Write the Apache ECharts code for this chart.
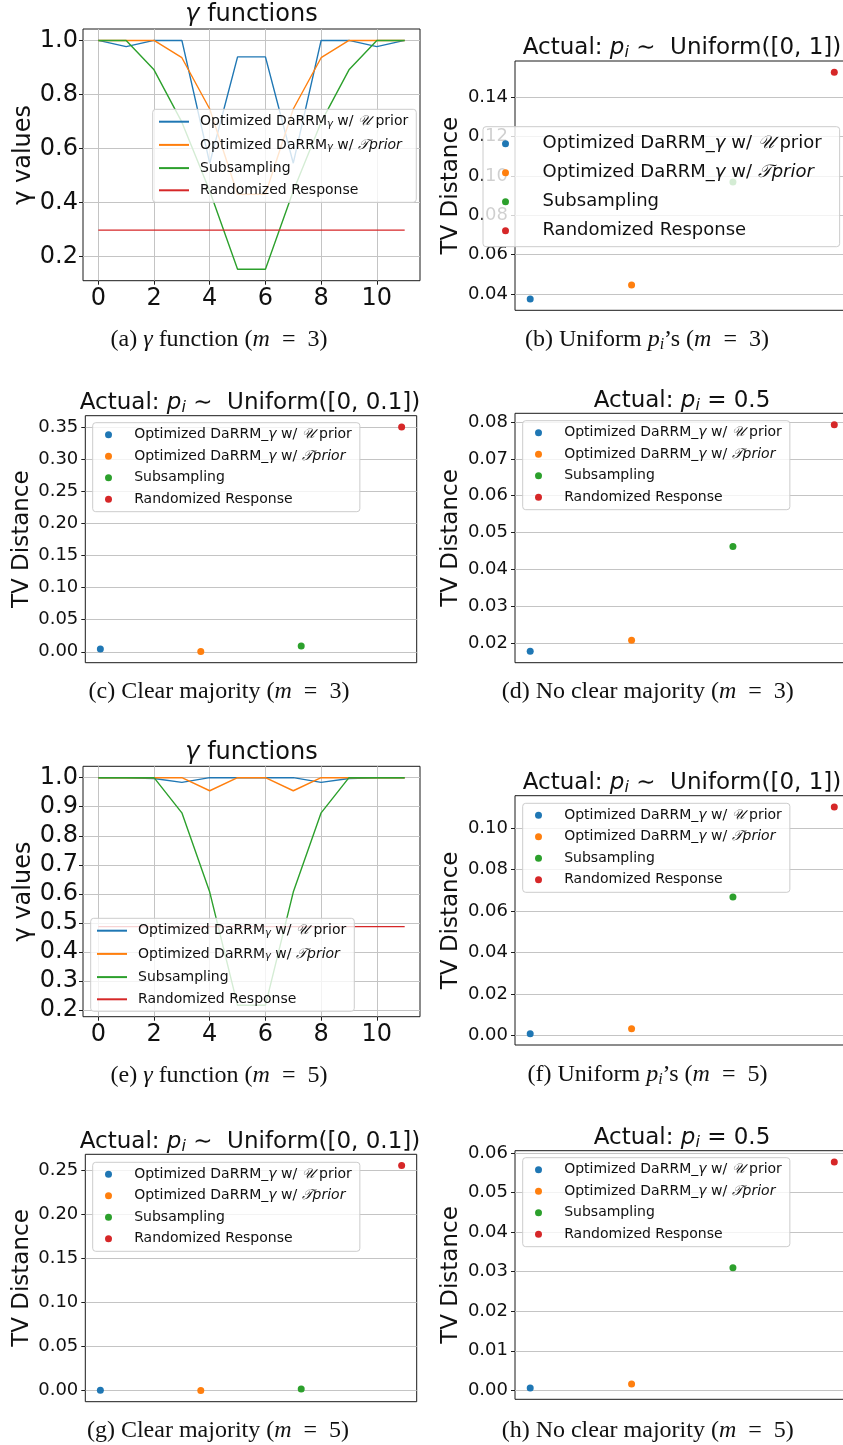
<!DOCTYPE html>
<html>
<head>
<meta charset="utf-8">
<script src="https://cdn.jsdelivr.net/npm/echarts@6/dist/echarts.min.js"></script>
<style>
  html, body { margin: 0; padding: 0; background: #fff; }
  #chart { width: 843px; height: 1445px; }
</style>
</head>
<body>
<div id="chart"></div>
<script>
// ---- data ----
const gammaX = [0, 1, 2, 3, 4, 5, 6, 7, 8, 9, 10, 11];
const gammaTickX = [0, 2, 4, 6, 8, 10];

// m = 3
const gammaU3   = [1.0, 0.977, 1.0, 1.0, 0.545, 0.939, 0.939, 0.545, 1.0, 1.0, 0.977, 1.0];
const gammaT3   = [1.0, 1.0, 1.0, 0.936, 0.746, 0.430, 0.430, 0.746, 0.936, 1.0, 1.0, 1.0];
const gammaSub3 = [1.0, 1.0, 0.891, 0.697, 0.442, 0.152, 0.152, 0.442, 0.697, 0.891, 1.0, 1.0];
const gammaRR3  = [0.297, 0.297, 0.297, 0.297, 0.297, 0.297, 0.297, 0.297, 0.297, 0.297, 0.297, 0.297];
// m = 5
const gammaU5   = [1.0, 1.0, 0.997, 0.984, 1.0, 1.0, 1.0, 1.0, 0.984, 0.997, 1.0, 1.0];
const gammaT5   = [1.0, 1.0, 1.0, 1.0, 0.955, 1.0, 1.0, 0.955, 1.0, 1.0, 1.0, 1.0];
const gammaSub5 = [1.0, 1.0, 1.0, 0.879, 0.606, 0.216, 0.216, 0.606, 0.879, 1.0, 1.0, 1.0];
const gammaRR5  = [0.487, 0.487, 0.487, 0.487, 0.487, 0.487, 0.487, 0.487, 0.487, 0.487, 0.487, 0.487];

// TV distance, order: DaRRM U prior, DaRRM T prior, Subsampling, Randomized Response
const methodPos = [0, 1, 2, 3];
const tvUniform3  = [0.0375, 0.0446, 0.0969, 0.1527];
const tvClear3    = [0.0042, 0.0005, 0.0089, 0.3505];
const tvNoMaj3    = [0.0177, 0.0207, 0.0462, 0.0793];
const tvUniform5  = [0.0010, 0.0034, 0.0668, 0.1101];
const tvClear5    = [0.0003, 0.0002, 0.0019, 0.2553];
const tvNoMaj5    = [0.0006, 0.0016, 0.0310, 0.0577];

const ticksA = [0.2, 0.4, 0.6, 0.8, 1.0];
const ticksB = [0.04, 0.06, 0.08, 0.10, 0.12, 0.14];
const ticksC = [0.00, 0.05, 0.10, 0.15, 0.20, 0.25, 0.30, 0.35];
const ticksD = [0.02, 0.03, 0.04, 0.05, 0.06, 0.07, 0.08];
const ticksE = [0.2, 0.3, 0.4, 0.5, 0.6, 0.7, 0.8, 0.9, 1.0];
const ticksF = [0.00, 0.02, 0.04, 0.06, 0.08, 0.10];
const ticksG = [0.00, 0.05, 0.10, 0.15, 0.20, 0.25];
const ticksH = [0.00, 0.01, 0.02, 0.03, 0.04, 0.05, 0.06];

const colors = ['#1f77b4', '#ff7f0e', '#2ca02c', '#d62728'];

const gammaLabels = [
  '{t|Optimized DaRRM}{s|γ}{t| w/ }{c|𝒰}{t| prior}',
  '{t|Optimized DaRRM}{s|γ}{t| w/ }{c|𝒯}{ci|prior}',
  '{t|Subsampling}',
  '{t|Randomized Response}'
];
const tvLabels = [
  '{t|Optimized DaRRM_}{ci|γ}{t| w/ }{c|𝒰}{t| prior}',
  '{t|Optimized DaRRM_}{ci|γ}{t| w/ }{c|𝒯}{ci|prior}',
  '{t|Subsampling}',
  '{t|Randomized Response}'
];

const titleUnif = (b) => '{t|Actual: }{it|p}{sub|i}{t| ∼  Uniform([0, ' + b + '])}';
const titleHalf = '{t|Actual: }{it|p}{sub|i}{t| = 0.5}';
const titleGamma = '{it|γ}{t| functions}';

// ---- layout ----
const panels = [
  { key: 'a', kind: 'gamma', box: [83, 29, 337, 251.7], data: [gammaU3, gammaT3, gammaSub3, gammaRR3], ticks: ticksA, dec: 1,
    legend: [152.7, 109.3], title: titleGamma, titlePos: [251.5, 15],
    caption: '{r|(a) }{ri|γ}{r| function (}{ri|m}{r|  =  3)}', capPos: [219, 340] },
  { key: 'b', kind: 'tv', box: [515, 61, 334.5, 249.3], data: tvUniform3, ticks: ticksB, dec: 2, big: true,
    legend: [483, 126.7], title: titleUnif('1'), titlePos: [682, 48],
    caption: '{r|(b) Uniform }{ri|p}{rs|i}{r|’s (}{ri|m}{r|  =  3)}', capPos: [647, 340] },
  { key: 'c', kind: 'tv', box: [85.3, 415.7, 331.4, 247], data: tvClear3, ticks: ticksC, dec: 2,
    legend: [92.7, 422.7], title: titleUnif('0.1'), titlePos: [250, 402.7],
    caption: '{r|(c) Clear majority (}{ri|m}{r|  =  3)}', capPos: [219, 692] },
  { key: 'd', kind: 'tv', box: [515, 413.3, 334.5, 249.4], data: tvNoMaj3, ticks: ticksD, dec: 2,
    legend: [522.7, 420.7], title: titleHalf, titlePos: [682, 400.7],
    caption: '{r|(d) No clear majority (}{ri|m}{r|  =  3)}', capPos: [647.7, 692] },
  { key: 'e', kind: 'gamma', box: [83, 766.3, 337, 250.4], data: [gammaU5, gammaT5, gammaSub5, gammaRR5], ticks: ticksE, dec: 1,
    legend: [90.7, 918.3], title: titleGamma, titlePos: [251.5, 753],
    caption: '{r|(e) }{ri|γ}{r| function (}{ri|m}{r|  =  5)}', capPos: [219, 1076] },
  { key: 'f', kind: 'tv', box: [515, 795.7, 334.5, 249.3], data: tvUniform5, ticks: ticksF, dec: 2,
    legend: [522.7, 803.3], title: titleUnif('1'), titlePos: [682, 782.7],
    caption: '{r|(f) Uniform }{ri|p}{rs|i}{r|’s (}{ri|m}{r|  =  5)}', capPos: [647.5, 1075] },
  { key: 'g', kind: 'tv', box: [85.3, 1154.3, 331.4, 247.4], data: tvClear5, ticks: ticksG, dec: 2,
    legend: [92.7, 1162.3], title: titleUnif('0.1'), titlePos: [250, 1141.7],
    caption: '{r|(g) Clear majority (}{ri|m}{r|  =  5)}', capPos: [218, 1431] },
  { key: 'h', kind: 'tv', box: [515, 1150.7, 334.5, 248.6], data: tvNoMaj5, ticks: ticksH, dec: 2,
    legend: [522.7, 1157.7], title: titleHalf, titlePos: [682, 1138.3],
    caption: '{r|(h) No clear majority (}{ri|m}{r|  =  5)}', capPos: [647.7, 1431] }
];

const FONT = 'DejaVu Sans';
const SERIF = 'Liberation Serif';

function padRange(vals) {
  const lo = Math.min.apply(null, vals), hi = Math.max.apply(null, vals);
  const p = (hi - lo) * 0.05;
  return [lo - p, hi + p];
}

const grids = [], xAxes = [], yAxes = [], series = [], legends = [], graphics = [];
const labelMap = {};

panels.forEach(function (p, i) {
  const gamma = p.kind === 'gamma';
  grids.push({
    left: p.box[0], top: p.box[1], width: p.box[2], height: p.box[3],
    show: true, borderColor: '#1a1a1a', borderWidth: 1, backgroundColor: 'transparent',
    containLabel: false, outerBoundsMode: 'none'
  });

  const allVals = gamma ? [].concat.apply([], p.data) : p.data;
  const yr = padRange(allVals);

  xAxes.push(gamma ? {
    gridIndex: i, type: 'value', min: -0.55, max: 11.55,
    axisLine: { show: false, onZero: false },
    axisTick: { show: true, length: 4, customValues: gammaTickX, lineStyle: { color: '#1a1a1a' } },
    axisLabel: { customValues: gammaTickX, fontFamily: FONT, fontSize: 24, color: '#111', margin: 6 },
    splitLine: { show: true, lineStyle: { color: '#c4c4c4', width: 1 } }
  } : {
    gridIndex: i, type: 'value', min: -0.15, max: 3.15,
    axisLine: { show: false, onZero: false }, axisTick: { show: false }, axisLabel: { show: false },
    splitLine: { show: false }
  });

  yAxes.push({
    gridIndex: i, type: 'value', min: yr[0], max: yr[1],
    axisLine: { show: false, onZero: false },
    axisTick: { show: true, length: 4, customValues: p.ticks, lineStyle: { color: '#1a1a1a' } },
    axisLabel: {
      customValues: p.ticks, fontFamily: FONT, fontSize: gamma ? 24 : 18, color: '#111',
      margin: gamma ? 5 : 7, formatter: function (v) { return v.toFixed(p.dec); }
    },
    splitLine: { show: true, lineStyle: { color: '#c4c4c4', width: 1 } },
    name: gamma ? 'γ values' : 'TV Distance',
    nameLocation: 'middle', nameGap: gamma ? 46 : 52,
    nameTextStyle: { fontFamily: FONT, fontSize: gamma ? 24 : 23, color: '#111' }
  });

  const names = [];
  for (let m = 0; m < 4; m++) {
    const name = p.key + m;
    names.push(name);
    labelMap[name] = gamma ? gammaLabels[m] : tvLabels[m];
    if (gamma) {
      series.push({
        type: 'line', name: name, xAxisIndex: i, yAxisIndex: i,
        data: gammaX.map(function (x, k) { return [x, p.data[m][k]]; }),
        symbol: 'none', color: colors[m], lineStyle: { width: 1.4, color: colors[m] },
        silent: true, animation: false
      });
    } else {
      series.push({
        type: 'scatter', name: name, xAxisIndex: i, yAxisIndex: i,
        data: [[methodPos[m], p.data[m]]],
        symbolSize: 7, itemStyle: { color: colors[m], opacity: 1 },
        silent: true, animation: false
      });
    }
  }

  const fs = p.big ? 18 : 14;
  const rich = {
    t: { fontFamily: FONT, fontSize: fs, color: '#111', lineHeight: fs },
    s: { fontFamily: FONT, fontSize: 10, fontStyle: 'italic', color: '#111', verticalAlign: 'bottom', padding: [6, 0, 0, 0] },
    c: { fontFamily: 'DejaVu Serif', fontSize: fs, fontStyle: 'italic', color: '#111', lineHeight: fs },
    ci: { fontFamily: FONT, fontSize: fs, fontStyle: 'italic', color: '#111', lineHeight: fs }
  };
  if (gamma) {
    legends.push({
      data: names, orient: 'vertical', left: p.legend[0], top: p.legend[1],
      itemWidth: 30, itemHeight: 14, itemGap: 8.2,
      padding: [5.4, 8, 5, 5.3],
      backgroundColor: 'rgba(255,255,255,0.8)', borderColor: '#cccccc', borderWidth: 1, borderRadius: 3,
      itemStyle: { opacity: 0 },
      selectedMode: false,
      formatter: function (n) { return labelMap[n]; },
      textStyle: { fontFamily: FONT, fontSize: fs, color: '#111', padding: [0, 0, 0, 6], rich: rich }
    });
  } else {
    const gapRow = p.big ? 11 : 7.5;
    legends.push({
      data: names.map(function (n) { return { name: n, icon: 'circle' }; }),
      orient: 'vertical', left: p.legend[0], top: p.legend[1],
      itemWidth: 14, itemHeight: 7, itemGap: gapRow,
      padding: p.big ? [8, 18, 7, 19] : [5, 8, 5.5, 12.3],
      backgroundColor: 'rgba(255,255,255,0.8)', borderColor: '#cccccc', borderWidth: 1, borderRadius: 3,
      selectedMode: false,
      formatter: function (n) { return labelMap[n]; },
      textStyle: { fontFamily: FONT, fontSize: fs, color: '#111', padding: [0, 0, 0, p.big ? 25 : 13.7], rich: rich }
    });
  }

  const tfs = gamma ? 24 : 23;
  graphics.push({
    type: 'text', x: p.titlePos[0], y: p.titlePos[1], silent: true,
    style: {
      text: p.title, align: 'center', verticalAlign: 'middle',
      fontFamily: FONT, fontSize: tfs, fill: '#111',
      rich: {
        t: { fontFamily: FONT, fontSize: tfs, fill: '#111' },
        it: { fontFamily: FONT, fontSize: tfs, fontStyle: 'italic', fill: '#111' },
        sub: { fontFamily: FONT, fontSize: 16, fontStyle: 'italic', fill: '#111', verticalAlign: 'bottom', padding: [10, 0, 0, 0] }
      }
    }
  });
  graphics.push({
    type: 'text', x: p.capPos[0], y: p.capPos[1], silent: true,
    style: {
      text: p.caption, align: 'center', verticalAlign: 'middle',
      fontFamily: SERIF, fontSize: 24, fill: '#111',
      rich: {
        r: { fontFamily: SERIF, fontSize: 24, fill: '#111' },
        ri: { fontFamily: SERIF, fontSize: 24, fontStyle: 'italic', fill: '#111' },
        rs: { fontFamily: SERIF, fontSize: 16, fontStyle: 'italic', fill: '#111', verticalAlign: 'bottom', padding: [9, 0, 0, 0] }
      }
    }
  });
});

const chart = echarts.init(document.getElementById('chart'), null, { renderer: 'canvas' });
chart.setOption({
  animation: false,
  backgroundColor: '#fff',
  grid: grids,
  xAxis: xAxes,
  yAxis: yAxes,
  legend: legends,
  series: series,
  graphic: graphics
});
</script>
</body>
</html>
